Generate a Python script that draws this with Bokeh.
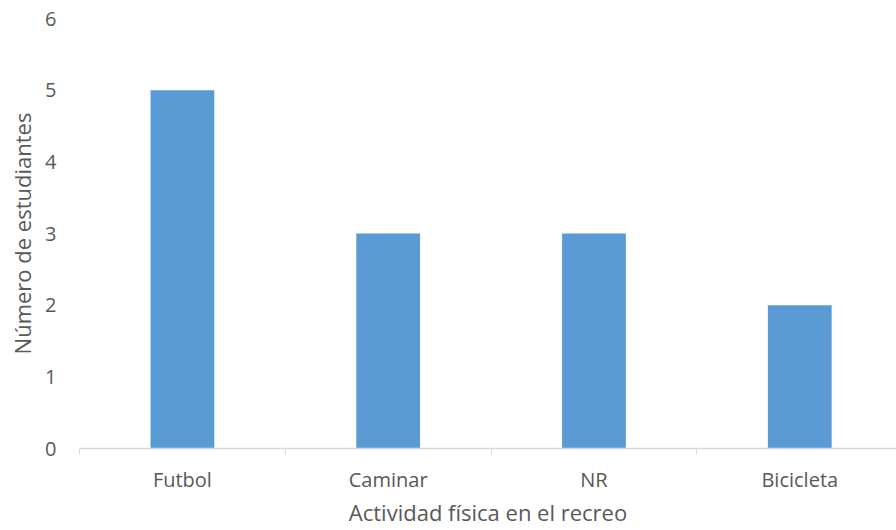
from bokeh.plotting import figure
from bokeh.models import Range1d, FixedTicker
from bokeh.embed import file_html
from bokeh.resources import INLINE

categories = ["Futbol", "Caminar", "NR", "Bicicleta"]
values = [5, 3, 3, 2]
y_ticks = [0, 1, 2, 3, 4, 5, 6]

FONT = "Open Sans"
TXT = "#595959"
AX = "#D9D9D9"

centers = [i + 0.5 for i in range(len(categories))]
bounds = list(range(len(categories) + 1))

p = figure(frame_width=817, frame_height=430, output_backend="svg", toolbar_location=None,
           x_range=Range1d(0, 3.97), y_range=Range1d(0, 6),
           min_border_left=79, min_border_right=0, min_border_top=18, min_border_bottom=60)
p.outline_line_color = None
p.grid.grid_line_color = None
p.background_fill_color = "white"
p.border_fill_color = "white"

p.vbar(x=centers, top=values, width=0.31, bottom=0, color="#5B9BD5", line_color=None)

xa = p.xaxis[0]
xa.ticker = FixedTicker(ticks=centers, minor_ticks=bounds)
xa.major_label_overrides = {c: n for c, n in zip(centers, categories)}
xa.major_tick_line_color = None
xa.major_tick_out = 0
xa.major_tick_in = 0
xa.minor_tick_line_color = AX
xa.minor_tick_out = 6
xa.minor_tick_in = 0
xa.axis_line_color = AX
xa.axis_line_width = 1.5
xa.major_label_text_font = FONT
xa.major_label_text_font_size = "20px"
xa.major_label_text_color = TXT
xa.major_label_standoff = 11
xa.axis_label = "Actividad física en el recreo"
xa.axis_label_text_font = FONT
xa.axis_label_text_font_size = "22px"
xa.axis_label_text_font_style = "normal"
xa.axis_label_text_color = TXT
xa.axis_label_standoff = 1

ya = p.yaxis[0]
ya.ticker = FixedTicker(ticks=y_ticks)
ya.axis_line_color = None
ya.major_tick_line_color = None
ya.major_tick_out = 0
ya.major_tick_in = 0
ya.minor_tick_line_color = None
ya.major_label_text_font = FONT
ya.major_label_text_font_size = "20px"
ya.major_label_text_color = TXT
ya.major_label_standoff = 23
ya.axis_label = "Número de estudiantes"
ya.axis_label_text_font = FONT
ya.axis_label_text_font_size = "22px"
ya.axis_label_text_font_style = "normal"
ya.axis_label_text_color = TXT
ya.axis_label_standoff = 5

open("out.html", "w").write(file_html(p, INLINE))
